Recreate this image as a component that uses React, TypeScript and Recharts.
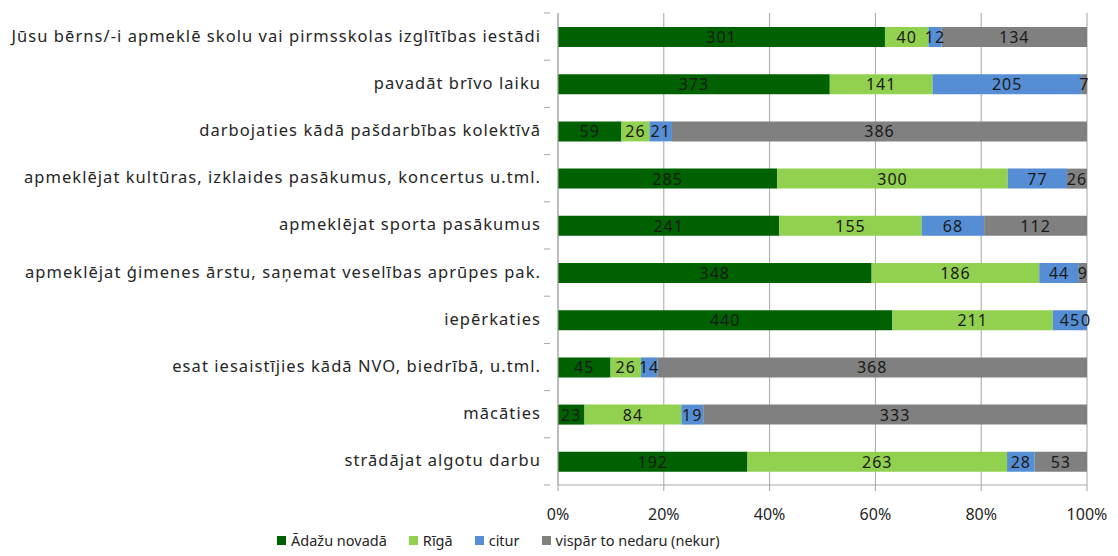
import React from "react";
import {
  BarChart,
  Bar,
  XAxis,
  YAxis,
  CartesianGrid,
  Legend,
  LabelList,
} from "recharts";

// categories, top to bottom
const categories = [
  "Jūsu bērns/-i apmeklē skolu vai pirmsskolas izglītības iestādi",
  "pavadāt brīvo laiku",
  "darbojaties kādā pašdarbības kolektīvā",
  "apmeklējat kultūras, izklaides pasākumus, koncertus u.tml.",
  "apmeklējat sporta pasākumus",
  "apmeklējat ģimenes ārstu, saņemat veselības aprūpes pak.",
  "iepērkaties",
  "esat iesaistījies kādā NVO, biedrībā, u.tml.",
  "mācāties",
  "strādājat algotu darbu",
];

const adazi = [301, 373, 59, 285, 241, 348, 440, 45, 23, 192];
const riga = [40, 141, 26, 300, 155, 186, 211, 26, 84, 263];
const citur = [12, 205, 21, 77, 68, 44, 45, 14, 19, 28];
const nekur = [134, 7, 386, 26, 112, 9, 0, 368, 333, 53];

const seriesNames = ["Ādažu novadā", "Rīgā", "citur", "vispār to nedaru (nekur)"];
const seriesKeys = ["adazi", "riga", "citur", "nekur"];
const colors = ["#006100", "#92d050", "#558ed5", "#808080"];

const xTicks = [0, 0.2, 0.4, 0.6, 0.8, 1];

const data = categories.map((name, i) => ({
  name,
  adazi: adazi[i],
  riga: riga[i],
  citur: citur[i],
  nekur: nekur[i],
}));

const FONT = "'Noto Sans', 'Open Sans', sans-serif";
const CHART_W = 1118;
const CHART_H = 556;
const MARGIN = { top: 13, right: 31, bottom: 0, left: 0 };
const X_AXIS_H = 45;
const LEGEND_H = 26;
const plotH = CHART_H - MARGIN.top - MARGIN.bottom - X_AXIS_H - LEGEND_H;
const halfBand = plotH / categories.length / 2;

const CategoryTick = (props: any) => {
  const { x, y, payload } = props;
  return (
    <g>
      <line x1={x - 6} x2={x} y1={y + halfBand} y2={y + halfBand} stroke="#a6a6a6" />
      {payload.index === 0 && (
        <line x1={x - 6} x2={x} y1={y - halfBand} y2={y - halfBand} stroke="#a6a6a6" />
      )}
      <text
        x={x - 9}
        y={y}
        dy={5}
        textAnchor="end"
        fill="#262626"
        fontSize={16.5}
        letterSpacing={1.05}
        fontFamily={FONT}
      >
        {payload.value}
      </text>
    </g>
  );
};

const valueText = (x: number, y: number, v: number | string) => (
  <text
    x={x}
    y={y}
    dy={6}
    textAnchor="middle"
    fill="#1a1a1a"
    fontSize={16}
    letterSpacing={1}
    fontFamily={FONT}
  >
    {v}
  </text>
);

// bar value label; a zero-width segment gets no label of its own, so the
// segment before it also draws the next series' value at its right end
const makeLabel = (nextKey?: string) => (props: any) => {
  const { x, y, width, height, index, value } = props;
  const row: any = props.payload ?? data[index];
  const cy = y + height / 2;
  return (
    <g>
      {Number(value) > 0 && valueText(x + width / 2, cy, value)}
      {nextKey && row && row[nextKey] === 0 && valueText(x + width - 1, cy, 0)}
    </g>
  );
};

const LegendContent = () => (
  <div style={{ display: "flex", alignItems: "center", fontFamily: FONT, fontSize: 14.5, color: "#262626" }}>
    {seriesNames.map((n, i) => (
      <div key={n} style={{ display: "flex", alignItems: "center", marginRight: 22 }}>
        <span style={{ width: 9, height: 9, background: colors[i], marginRight: 5, display: "inline-block" }} />
        <span>{n}</span>
      </div>
    ))}
  </div>
);

export default function App() {
  return (
    <div style={{ position: "absolute", left: 0, top: 0, background: "#fff" }}>
      <BarChart
        width={CHART_W}
        height={CHART_H}
        data={data}
        layout="vertical"
        stackOffset="expand"
        margin={MARGIN}
        barSize={20}
      >
        <CartesianGrid horizontal={false} stroke="#a6a6a6" />
        <XAxis
          type="number"
          domain={[0, 1]}
          ticks={xTicks}
          tickFormatter={(v: number) => `${Math.round(v * 100)}%`}
          height={X_AXIS_H}
          axisLine={{ stroke: "#a6a6a6" }}
          tickLine={{ stroke: "#a6a6a6" }}
          tickSize={6}
          tickMargin={18}
          tick={{ fill: "#262626", fontSize: 16, fontFamily: FONT }}
        />
        <YAxis
          type="category"
          dataKey="name"
          width={558}
          axisLine={{ stroke: "#a6a6a6" }}
          tickLine={false}
          tick={<CategoryTick />}
          interval={0}
        />
        <Legend
          verticalAlign="bottom"
          height={LEGEND_H}
          content={<LegendContent />}
          wrapperStyle={{ left: 277, width: "auto" }}
        />
        {seriesKeys.map((k, i) => (
          <Bar key={k} dataKey={k} name={seriesNames[i]} stackId="a" fill={colors[i]} isAnimationActive={false}>
            <LabelList dataKey={k} content={makeLabel(seriesKeys[i + 1])} />
          </Bar>
        ))}
      </BarChart>
    </div>
  );
}
